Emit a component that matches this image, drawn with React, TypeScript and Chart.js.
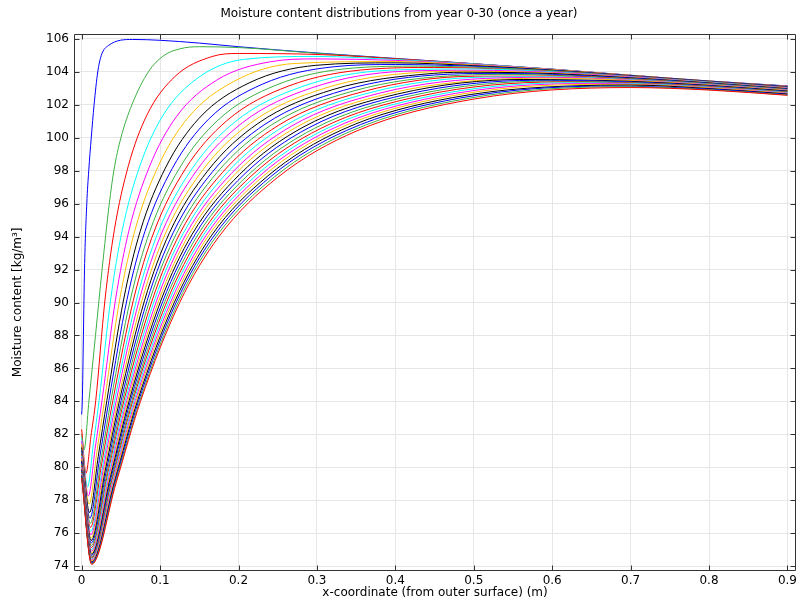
import React, { useEffect, useRef } from 'react';
import { Chart, registerables } from 'chart.js';

Chart.register(...registerables);

// ---------- text ----------
const chartTitle = 'Moisture content distributions from year 0-30 (once a year)';
const xTitle = 'x-coordinate (from outer surface) (m)';
const yTitle = 'Moisture content [kg/m³]';

// ---------- axes ----------
const xTicks = [0, 0.1, 0.2, 0.3, 0.4, 0.5, 0.6, 0.7, 0.8, 0.9];
const xTickLabels = ['0', '0.1', '0.2', '0.3', '0.4', '0.5', '0.6', '0.7', '0.8', '0.9'];
const yTicks = [74, 76, 78, 80, 82, 84, 86, 88, 90, 92, 94, 96, 98, 100, 102, 104, 106];
const yTickLabels = ['74', '76', '78', '80', '82', '84', '86', '88', '90', '92', '94', '96', '98', '100', '102', '104', '106'];

// ---------- series: [x (m), moisture (kg/m3)], one per year ----------
const year00 = [[0, 83.2], [0.0008, 84], [0.0022, 88], [0.0036, 92], [0.0065, 96], [0.009, 98], [0.0122, 100], [0.0158, 102], [0.0205, 104], [0.025, 105], [0.034, 105.6], [0.065, 105.97], [0.1, 105.92], [0.15, 105.75], [0.2, 105.53], [0.3, 105.15], [0.4, 104.82], [0.5, 104.5], [0.6, 104.17], [0.7, 103.8], [0.8, 103.45], [0.9, 103.15]];
const year01 = [[0, 82.0], [0.003, 81.05], [0.0092, 84], [0.0176, 88], [0.026, 92], [0.0352, 96], [0.041, 98], [0.05, 100], [0.064, 102], [0.085, 104], [0.105, 105], [0.125, 105.4], [0.15, 105.53], [0.2, 105.48], [0.3, 105.13], [0.4, 104.8], [0.5, 104.49], [0.6, 104.16], [0.7, 103.79], [0.8, 103.44], [0.9, 103.14]];
const year02 = [[0, 82.3], [0.0055, 79.64], [0.0117, 81.84], [0.0179, 84.04], [0.0297, 90.16], [0.0415, 94.36], [0.0593, 98.26], [0.0831, 101.37], [0.1187, 103.71], [0.166, 104.93], [0.2, 105.12], [0.3, 105.06], [0.4, 104.8], [0.5, 104.49], [0.6, 104.16], [0.7, 103.79], [0.8, 103.44], [0.9, 103.13]];
const year03 = [[0, 81.8], [0.0075, 78.8], [0.0149, 81.42], [0.0222, 84.04], [0.0369, 90.16], [0.0516, 94.36], [0.0737, 98.22], [0.1033, 101.33], [0.1475, 103.61], [0.2064, 104.76], [0.3, 104.94], [0.4, 104.75], [0.5, 104.48], [0.6, 104.16], [0.7, 103.79], [0.8, 103.44], [0.9, 103.12]];
const year04 = [[0, 81.6], [0.0085, 78.25], [0.0172, 81.15], [0.0259, 84.04], [0.0431, 90.16], [0.0602, 94.36], [0.0861, 98.21], [0.1206, 101.27], [0.1722, 103.5], [0.241, 104.62], [0.3, 104.79], [0.4, 104.7], [0.5, 104.45], [0.6, 104.15], [0.7, 103.79], [0.8, 103.44], [0.9, 103.12]];
const year05 = [[0, 81.4], [0.0095, 77.75], [0.0193, 80.9], [0.0291, 84.04], [0.0484, 90.16], [0.0677, 94.35], [0.0968, 98.19], [0.1356, 101.22], [0.1936, 103.41], [0.271, 104.51], [0.4, 104.63], [0.5, 104.42], [0.6, 104.14], [0.7, 103.79], [0.8, 103.44], [0.9, 103.11]];
const year06 = [[0, 81.2], [0.01, 77.25], [0.0211, 80.65], [0.0321, 84.04], [0.0534, 90.16], [0.0746, 94.32], [0.1067, 98.16], [0.1494, 101.17], [0.2134, 103.33], [0.2986, 104.4], [0.4, 104.55], [0.5, 104.38], [0.6, 104.11], [0.7, 103.77], [0.8, 103.43], [0.9, 103.1]];
const year07 = [[0, 81.0], [0.0105, 76.9], [0.0226, 80.47], [0.0347, 84.04], [0.0577, 90.16], [0.0806, 94.31], [0.1154, 98.13], [0.1616, 101.12], [0.2307, 103.26], [0.3228, 104.32], [0.4, 104.45], [0.5, 104.34], [0.6, 104.09], [0.7, 103.76], [0.8, 103.42], [0.9, 103.09]];
const year08 = [[0, 80.9], [0.011, 76.6], [0.0242, 80.32], [0.0373, 84.04], [0.062, 90.16], [0.0867, 94.3], [0.124, 98.1], [0.1737, 101.07], [0.248, 103.2], [0.347, 104.24], [0.43, 104.35], [0.5, 104.29], [0.6, 104.07], [0.7, 103.74], [0.8, 103.4], [0.9, 103.07]];
const year09 = [[0, 80.8], [0.0112, 76.35], [0.0255, 80.2], [0.0397, 84.04], [0.0659, 90.14], [0.0922, 94.29], [0.1318, 98.08], [0.1846, 101.02], [0.2637, 103.14], [0.369, 104.17], [0.45, 104.27], [0.6, 104.03], [0.7, 103.73], [0.8, 103.39], [0.9, 103.05]];
const year10 = [[0, 80.7], [0.0115, 76.1], [0.0268, 80.07], [0.042, 84.04], [0.0698, 90.14], [0.0976, 94.28], [0.1397, 98.05], [0.1956, 100.97], [0.2793, 103.08], [0.3909, 104.1], [0.5, 104.18], [0.6, 104.01], [0.7, 103.71], [0.8, 103.38], [0.9, 103.03]];
const year11 = [[0, 80.6], [0.0117, 75.9], [0.0279, 79.97], [0.0441, 84.04], [0.0733, 90.13], [0.1025, 94.27], [0.1467, 98.02], [0.2054, 100.93], [0.2933, 103.03], [0.4105, 104.04], [0.5, 104.1], [0.6, 103.97], [0.7, 103.69], [0.8, 103.35], [0.9, 103.02]];
const year12 = [[0, 80.5], [0.0118, 75.7], [0.029, 79.87], [0.0463, 84.04], [0.0768, 90.12], [0.1074, 94.26], [0.1537, 98.0], [0.2152, 100.89], [0.3074, 102.97], [0.4301, 103.97], [0.5, 104.04], [0.6, 103.93], [0.7, 103.66], [0.8, 103.34], [0.9, 103.0]];
const year13 = [[0, 80.4], [0.012, 75.55], [0.0301, 79.8], [0.0482, 84.04], [0.0801, 90.11], [0.112, 94.24], [0.1603, 97.97], [0.2245, 100.86], [0.3205, 102.93], [0.4485, 103.91], [0.5, 103.98], [0.6, 103.9], [0.7, 103.64], [0.8, 103.33], [0.9, 102.98]];
const year14 = [[0, 80.3], [0.0121, 75.4], [0.0312, 79.72], [0.0502, 84.04], [0.0834, 90.11], [0.1166, 94.23], [0.1669, 97.94], [0.2337, 100.82], [0.3337, 102.88], [0.467, 103.86], [0.53, 103.91], [0.6, 103.85], [0.7, 103.62], [0.8, 103.31], [0.9, 102.96]];
const year15 = [[0, 80.2], [0.0122, 75.25], [0.0322, 79.65], [0.0521, 84.04], [0.0865, 90.1], [0.121, 94.21], [0.173, 97.91], [0.2423, 100.79], [0.3461, 102.84], [0.4843, 103.8], [0.55, 103.85], [0.6, 103.8], [0.7, 103.59], [0.8, 103.29], [0.9, 102.94]];
const year16 = [[0, 80.1], [0.0123, 75.12], [0.0331, 79.58], [0.0539, 84.04], [0.0896, 90.09], [0.1253, 94.2], [0.1792, 97.88], [0.251, 100.76], [0.3584, 102.8], [0.5016, 103.74], [0.6, 103.75], [0.7, 103.56], [0.8, 103.26], [0.9, 102.92]];
const year17 = [[0, 80.0], [0.0124, 75.0], [0.034, 79.52], [0.0557, 84.04], [0.0925, 90.09], [0.1293, 94.18], [0.185, 97.86], [0.2591, 100.73], [0.37, 102.77], [0.5177, 103.69], [0.6, 103.71], [0.7, 103.53], [0.8, 103.25], [0.9, 102.9]];
const year18 = [[0, 79.95], [0.0125, 74.9], [0.035, 79.47], [0.0574, 84.04], [0.0954, 90.09], [0.1333, 94.17], [0.1908, 97.83], [0.2672, 100.7], [0.3815, 102.73], [0.5338, 103.64], [0.6, 103.67], [0.7, 103.5], [0.8, 103.23], [0.9, 102.88]];
const year19 = [[0, 79.9], [0.0125, 74.8], [0.0358, 79.42], [0.059, 84.04], [0.0981, 90.09], [0.1371, 94.16], [0.1961, 97.81], [0.2747, 100.67], [0.3922, 102.69], [0.5488, 103.59], [0.6, 103.62], [0.7, 103.48], [0.8, 103.21], [0.9, 102.87]];
const year20 = [[0, 79.85], [0.0126, 74.72], [0.0366, 79.38], [0.0606, 84.04], [0.1007, 90.08], [0.1408, 94.14], [0.2015, 97.78], [0.2822, 100.64], [0.4029, 102.66], [0.5638, 103.54], [0.7, 103.43], [0.8, 103.18], [0.9, 102.84]];
const year21 = [[0, 79.8], [0.0126, 74.64], [0.0374, 79.34], [0.0622, 84.04], [0.1034, 90.07], [0.1446, 94.13], [0.2068, 97.76], [0.2897, 100.61], [0.4136, 102.63], [0.5788, 103.49], [0.7, 103.39], [0.8, 103.16], [0.9, 102.81]];
const year22 = [[0, 79.75], [0.0127, 74.56], [0.0383, 79.3], [0.0639, 84.04], [0.1061, 90.07], [0.1483, 94.12], [0.2122, 97.74], [0.2972, 100.58], [0.4244, 102.6], [0.5938, 103.44], [0.7, 103.35], [0.8, 103.13], [0.9, 102.79]];
const year23 = [[0, 79.7], [0.0127, 74.49], [0.039, 79.27], [0.0653, 84.04], [0.1086, 90.06], [0.1518, 94.1], [0.2171, 97.72], [0.3041, 100.55], [0.4342, 102.56], [0.6076, 103.39], [0.7, 103.33], [0.8, 103.11], [0.9, 102.76]];
const year24 = [[0, 79.65], [0.0127, 74.42], [0.0398, 79.23], [0.0668, 84.04], [0.111, 90.04], [0.1552, 94.09], [0.2221, 97.7], [0.311, 100.53], [0.4441, 102.53], [0.6215, 103.34], [0.7, 103.3], [0.8, 103.08], [0.9, 102.74]];
const year25 = [[0, 79.6], [0.0127, 74.36], [0.0405, 79.2], [0.0683, 84.04], [0.1135, 90.03], [0.1587, 94.08], [0.227, 97.69], [0.3179, 100.51], [0.454, 102.5], [0.6353, 103.29], [0.7, 103.26], [0.8, 103.05], [0.9, 102.71]];
const year26 = [[0, 79.55], [0.0127, 74.3], [0.0412, 79.17], [0.0697, 84.04], [0.1158, 90.02], [0.1619, 94.07], [0.2315, 97.67], [0.3243, 100.49], [0.4631, 102.47], [0.648, 103.24], [0.7, 103.23], [0.8, 103.03], [0.9, 102.69]];
const year27 = [[0, 79.5], [0.0127, 74.24], [0.042, 79.14], [0.0712, 84.03], [0.1182, 90.01], [0.1653, 94.05], [0.2365, 97.65], [0.3312, 100.47], [0.473, 102.44], [0.6618, 103.19], [0.7, 103.2], [0.8, 102.99], [0.9, 102.66]];
const year28 = [[0, 79.45], [0.0127, 74.19], [0.0426, 79.1], [0.0725, 84.01], [0.1205, 90.01], [0.1685, 94.03], [0.241, 97.64], [0.3375, 100.44], [0.482, 102.41], [0.6745, 103.14], [0.8, 102.96], [0.9, 102.63]];
const year29 = [[0, 79.4], [0.0127, 74.14], [0.0433, 79.07], [0.0739, 84.0], [0.1228, 90.0], [0.1716, 94.01], [0.2456, 97.62], [0.3439, 100.42], [0.4911, 102.38], [0.6872, 103.1], [0.8, 102.92], [0.9, 102.6]];
const year30 = [[0, 79.35], [0.0127, 74.1], [0.0439, 79.05], [0.075, 84.0], [0.125, 90.0], [0.175, 94.0], [0.25, 97.6], [0.35, 100.4], [0.5, 102.35], [0.7, 103.05], [0.8, 102.9], [0.9, 102.58]];

const profiles = [year00, year01, year02, year03, year04, year05, year06, year07, year08, year09, year10, year11, year12, year13, year14, year15, year16, year17, year18, year19, year20, year21, year22, year23, year24, year25, year26, year27, year28, year29, year30];
const colorCycle = ['#0000ff', '#3cb043', '#ff0000', '#00ffff', '#ff00ff', '#ffbf00', '#000000'];

const FONT = 'DejaVu Sans, Verdana, sans-serif';

const framePlugin = {
  id: 'frameTicks',
  afterDraw(chart: any) {
    const { ctx, chartArea: a, scales } = chart;
    const L = Math.round(a.left) + 0.5;
    const R = Math.round(a.right) - 0.5;
    const T = Math.round(a.top) + 0.5;
    const B = Math.round(a.bottom) - 0.5;
    ctx.save();
    ctx.strokeStyle = '#333333';
    ctx.lineWidth = 1;
    ctx.beginPath();
    ctx.moveTo(L, T); ctx.lineTo(R, T); ctx.lineTo(R, B); ctx.lineTo(L, B); ctx.closePath();
    const len = 5;
    xTicks.forEach((v) => {
      const px = Math.round(scales.x.getPixelForValue(v)) + 0.5;
      ctx.moveTo(px, T); ctx.lineTo(px, T + len);
      ctx.moveTo(px, B); ctx.lineTo(px, B - len);
    });
    yTicks.forEach((v) => {
      const py = Math.round(scales.y.getPixelForValue(v)) + 0.5;
      ctx.moveTo(L, py); ctx.lineTo(L + len, py);
      ctx.moveTo(R, py); ctx.lineTo(R - len, py);
    });
    ctx.stroke();
    ctx.restore();
  },
};

export default function App() {
  const ref = useRef<HTMLCanvasElement | null>(null);
  useEffect(() => {
    if (!ref.current) return;
    const datasets = profiles.map((pts, k) => ({
      label: 'Year ' + k,
      data: pts.map((p) => ({ x: p[0], y: p[1] })),
      borderColor: colorCycle[k % colorCycle.length],
      backgroundColor: colorCycle[k % colorCycle.length],
      borderWidth: 1,
      pointRadius: 0,
      showLine: true,
      fill: false,
      order: profiles.length - k,
      cubicInterpolationMode: 'monotone' as const,
    }));
    const chart = new Chart(ref.current, {
      type: 'scatter',
      data: { datasets },
      plugins: [framePlugin],
      options: {
        animation: false,
        responsive: false,
        maintainAspectRatio: false,
        events: [],
        layout: { padding: { left: 0, right: 2, top: 0, bottom: 0 } },
        plugins: {
          legend: { display: false },
          tooltip: { enabled: false },
          title: {
            display: true,
            text: chartTitle,
            color: '#000',
            font: { family: FONT, size: 12, weight: 'normal' },
            padding: { top: 7, bottom: 12.3 },
          },
        },
        scales: {
          x: {
            type: 'linear',
            min: -0.0098,
            max: 0.911,
            afterBuildTicks: (s: any) => { s.ticks = xTicks.map((v) => ({ value: v })); },
            afterFit: (s: any) => { s.height = 31; },
            ticks: {
              autoSkip: false,
              maxRotation: 0,
              padding: 3,
              color: '#000',
              font: { family: FONT, size: 12 },
              callback: (_v: any, i: number) => xTickLabels[i],
            },
            grid: { color: '#e6e6e6', drawTicks: false },
            border: { display: false },
            title: {
              display: true,
              text: xTitle,
              color: '#000',
              font: { family: FONT, size: 12 },
              padding: { top: 0, bottom: 1.8 },
            },
          },
          y: {
            type: 'linear',
            min: 73.7,
            max: 106.32,
            afterBuildTicks: (s: any) => { s.ticks = yTicks.map((v) => ({ value: v })); },
            afterFit: (s: any) => { s.width = 74; },
            ticks: {
              autoSkip: false,
              padding: 5,
              color: '#000',
              font: { family: FONT, size: 12 },
              callback: (_v: any, i: number) => yTickLabels[i],
            },
            grid: { color: '#e6e6e6', drawTicks: false },
            border: { display: false },
            title: {
              display: true,
              text: yTitle,
              color: '#000',
              font: { family: FONT, size: 12 },
              padding: { top: 10.8, bottom: 0 },
            },
          },
        },
      } as any,
    });
    return () => chart.destroy();
  }, []);
  return (
    <div style={{ position: 'fixed', left: 0, top: 0, width: 800, height: 602, background: '#fff' }}>
      <canvas ref={ref} width={800} height={602} style={{ display: 'block' }} />
    </div>
  );
}
